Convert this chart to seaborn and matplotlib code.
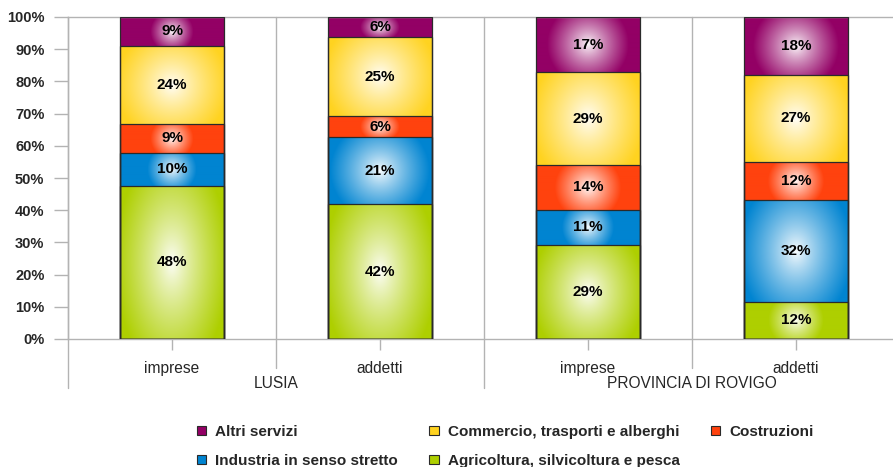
import numpy as np
import pandas as pd
import matplotlib
matplotlib.use("Agg")
import matplotlib.pyplot as plt
import seaborn as sns
from matplotlib.colors import to_rgb
from matplotlib.patches import Patch
import matplotlib.transforms as mtransforms

# ---------------- data ----------------
groups = ["LUSIA", "LUSIA", "PROVINCIA DI ROVIGO", "PROVINCIA DI ROVIGO"]
measures = ["imprese", "addetti", "imprese", "addetti"]
series_names = ["Agricoltura, silvicoltura e pesca", "Industria in senso stretto",
                "Costruzioni", "Commercio, trasporti e alberghi", "Altri servizi"]
agricoltura = [47.6, 41.9, 29.2, 11.6]
industria = [10.3, 20.8, 10.9, 31.6]
costruzioni = [9.0, 6.4, 13.9, 11.8]
commercio = [24.1, 24.7, 28.9, 27.0]
altri = [9.0, 6.2, 17.1, 18.0]
y_ticks = [0, 10, 20, 30, 40, 50, 60, 70, 80, 90, 100]

colors = ["#aecf00", "#0084d1", "#ff420e", "#ffd320", "#930065"]
values = [agricoltura, industria, costruzioni, commercio, altri]
keys = [f"{g}|{m}|{i}" for i, (g, m) in enumerate(zip(groups, measures))]

# ---------------- figure ----------------
sns.set_style("white")
plt.rcParams["font.family"] = ["Liberation Sans", "DejaVu Sans"]

W, H = 893, 467
fig = plt.figure(figsize=(W / 100, H / 100), dpi=100)
ax_l, ax_b, ax_w, ax_h = 68, 128, 832, 322
ax = fig.add_axes([ax_l / W, ax_b / H, ax_w / W, ax_h / H])

vals = np.array(values)
cum = np.cumsum(vals, axis=0)

# draw stacked bars (largest cumulative first) with seaborn
seg_patches = {}
for si in range(len(series_names) - 1, -1, -1):
    n_before = len(ax.patches)
    df = pd.DataFrame({"key": keys, "val": cum[si]})
    sns.barplot(data=df, x="key", y="val", order=keys, color="white",
                width=0.5, ax=ax, errorbar=None, saturation=1)
    seg_patches[si] = ax.patches[n_before:]

edge = "#2a2a2a"
px_per_x = ax_w / 4.0
px_per_y = ax_h / 100.0
white = np.array([1.0, 1.0, 1.0])

for si in range(len(series_names)):
    col = np.array(to_rgb(colors[si]))
    for bi, p in enumerate(seg_patches[si]):
        p.set_facecolor("none")
        p.set_edgecolor(edge)
        p.set_linewidth(0.9)
        p.set_zorder(3)
        x0 = p.get_x()
        x1 = x0 + p.get_width()
        top = cum[si][bi]
        bot = top - vals[si][bi]
        w_px = (x1 - x0) * px_per_x
        h_px = (top - bot) * px_per_y
        nx = max(int(w_px), 2)
        ny = max(int(h_px), 2)
        dx = np.linspace(-w_px / 2, w_px / 2, nx)
        dy = np.linspace(-h_px / 2, h_px / 2, ny)
        DX, DY = np.meshgrid(dx, dy)
        rx = np.clip(h_px * 0.75, 20, w_px / 2 * 1.1)
        ry = max(h_px / 2 * 1.5, 1)
        s = np.sqrt((DX / rx) ** 2 + (DY / ry) ** 2)
        s = np.clip(s, 0, 1) ** 0.8
        img = white[None, None, :] * (1 - s[..., None]) + col[None, None, :] * s[..., None]
        ax.imshow(img, extent=[x0, x1, bot, top], origin="lower", aspect="auto",
                  interpolation="bilinear", zorder=2)
        ax.text((x0 + x1) / 2, (bot + top) / 2, f"{round(vals[si][bi])}%",
                ha="center", va="center", fontsize=11, fontweight="bold",
                color="black", zorder=4)

ax.set_xlim(-0.5, 3.5)
ax.set_ylim(0, 100)
ax.set_xlabel("")
ax.set_ylabel("")

grey = "#b3b3b3"
for sp in ["left", "bottom", "top"]:
    ax.spines[sp].set_visible(True)
    ax.spines[sp].set_color(grey)
    ax.spines[sp].set_linewidth(1)
ax.spines["right"].set_visible(False)

ax.set_yticks(y_ticks)
ax.set_yticklabels([f"{v}%" for v in y_ticks], fontweight="bold", fontsize=10.5)
ax.tick_params(axis="y", length=10, color=grey, width=1, pad=7, left=True)
ax.set_xticks(range(4))
ax.set_xticklabels(measures, fontsize=11.2)
ax.tick_params(axis="x", length=8, color=grey, width=1, pad=7.5, bottom=True)

# category separators
trans = mtransforms.blended_transform_factory(ax.transData, ax.transAxes)
for xs, ext in [(0.5, 29), (1.5, 49), (2.5, 29), (-0.5, 49)]:
    ax.plot([xs, xs], [1, -ext / ax_h], color=grey, lw=1, transform=trans,
            clip_on=False, zorder=1)

# group labels
for gx, gname in [(0.5, "LUSIA"), (2.5, "PROVINCIA DI ROVIGO")]:
    ax.annotate(gname, xy=(gx, 0), xycoords=trans, xytext=(0, -45),
                textcoords="offset pixels", ha="center", va="center", fontsize=11.2)

# legend
order = [4, 1, 3, 0, 2]
handles = [Patch(facecolor=colors[i], edgecolor=edge, linewidth=0.8) for i in order]
labels = [series_names[i] for i in order]
fig.legend(handles, labels, ncol=3, loc="upper left",
           bbox_to_anchor=(197 / W, 1 - 425 / H), frameon=False,
           prop={"weight": "bold", "size": 11}, handlelength=0.6, handleheight=0.6,
           handletextpad=0.6, columnspacing=2.05, labelspacing=0.98,
           borderaxespad=0, borderpad=0)

fig.savefig("out.png", dpi=100)
